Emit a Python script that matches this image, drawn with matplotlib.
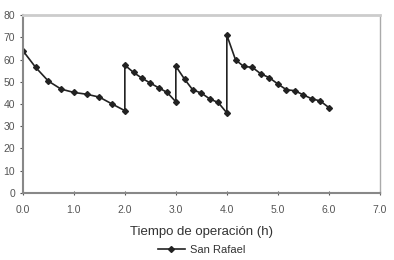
import matplotlib
matplotlib.use("Agg")
import matplotlib.pyplot as plt

plt.rcParams['font.family'] = ['Liberation Sans', 'DejaVu Sans']

# -------------------- Data --------------------
tiempo = [0.0, 0.25, 0.5, 0.75, 1.0, 1.25, 1.5, 1.75, 2.0,
          2.0, 2.17, 2.33, 2.5, 2.67, 2.83, 3.0,
          3.0, 3.17, 3.33, 3.5, 3.67, 3.83, 4.0,
          4.0, 4.17, 4.33, 4.5, 4.67, 4.83, 5.0, 5.17, 5.33, 5.5, 5.67, 5.83, 6.0]
san_rafael = [64, 56.5, 50.3, 46.7, 45.2, 44.4, 43.1, 40.0, 37.0,
              57.5, 54.2, 51.7, 49.4, 47.2, 45.2, 41.0,
              57.0, 51.2, 46.4, 44.9, 42.2, 40.7, 36.0,
              71.0, 59.9, 56.9, 56.5, 53.5, 51.9, 49.0, 46.4, 46.0, 44.1, 42.3, 41.4, 38.4]
x_ticks = [0, 1, 2, 3, 4, 5, 6, 7]
y_ticks = [0, 10, 20, 30, 40, 50, 60, 70, 80]

# -------------------- Plot --------------------
fig = plt.figure(figsize=(3.94, 2.6), dpi=100)
ax = fig.add_axes([0.058, 0.258, 0.906, 0.684])

ax.plot(tiempo, san_rafael, color='#222222', linewidth=1.2, marker='D',
        markersize=3, markerfacecolor='#222222', markeredgecolor='#222222',
        label='San Rafael')

ax.set_xlim(0, 7)
ax.set_ylim(0, 80)
ax.set_xticks(x_ticks)
ax.set_xticklabels([f"{t:.1f}" for t in x_ticks])
ax.set_yticks(y_ticks)
ax.tick_params(labelsize=7.5, colors='#555555', length=2.5, width=0.8, pad=3)
ax.tick_params(axis='x', direction='inout', length=3, pad=7)

for side in ['left', 'bottom']:
    ax.spines[side].set_color('#888888')
    ax.spines[side].set_linewidth(1.5)
ax.spines['top'].set_color('#cccccc')
ax.spines['top'].set_linewidth(2)
ax.spines['right'].set_color('#aaaaaa')
ax.spines['right'].set_linewidth(1)

ax.set_xlabel('Tiempo de operación (h)', fontsize=9.5, color='#333333', labelpad=8)
ax.legend(loc='upper center', bbox_to_anchor=(0.5, -0.235), frameon=False,
          fontsize=8, handlelength=2.5, handletextpad=0.4, labelcolor='#333333')

fig.savefig('out.png', dpi=100)
